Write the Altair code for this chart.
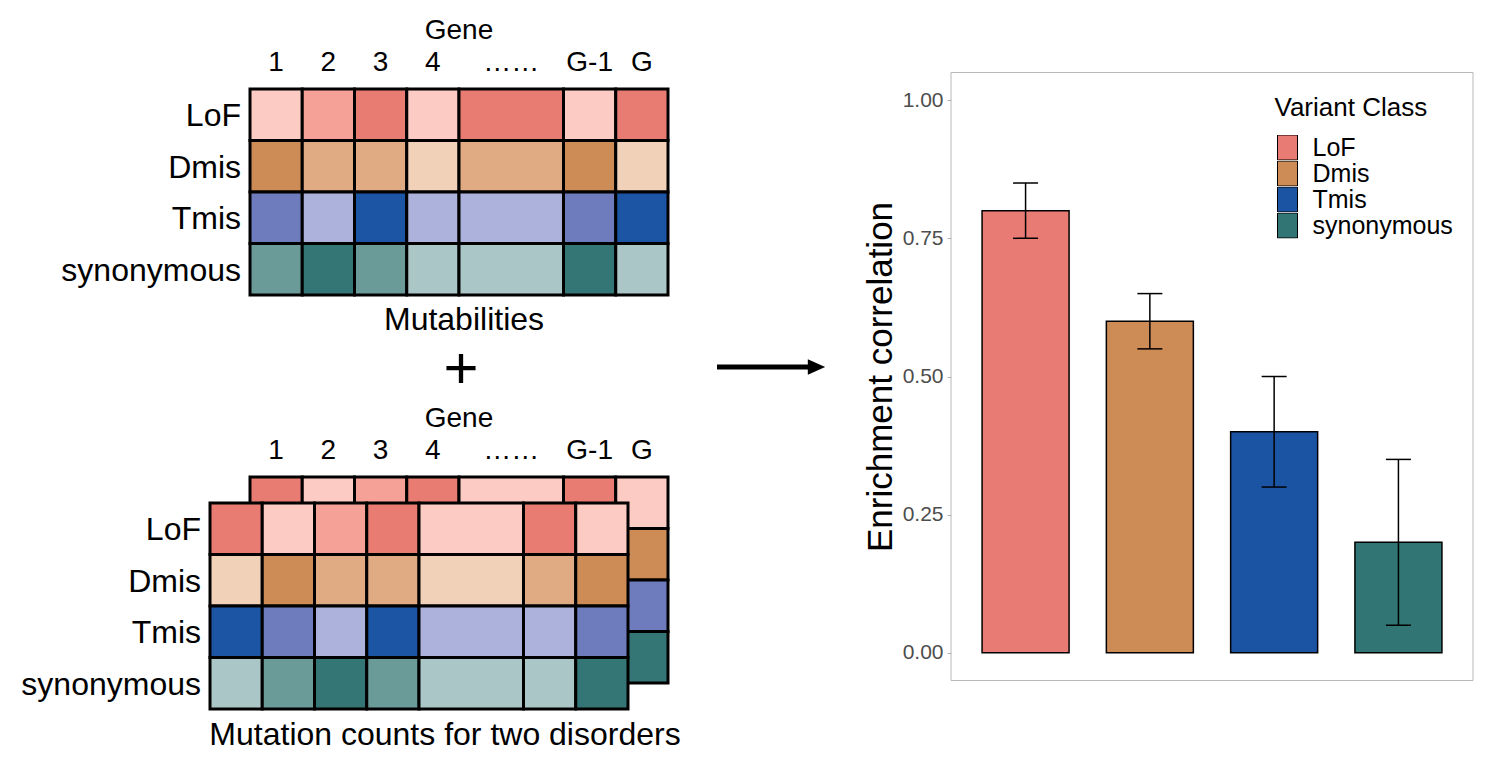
import altair as alt
import pandas as pd
from itertools import accumulate

FONT = "Liberation Sans"

# ------------------------------------------------------------------ data
genes = ["1", "2", "3", "4", "……", "G-1", "G"]
gene_span = [1, 1, 1, 1, 2, 1, 1]          # the "……" column stands for many genes
classes = ["LoF", "Dmis", "Tmis", "synonymous"]

# shade level (1 = light, 2 = medium, 3 = dark) of each cell
mut_lof = [1, 2, 3, 1, 3, 1, 3]
mut_dmis = [3, 2, 2, 1, 2, 3, 1]
mut_tmis = [2, 1, 3, 1, 1, 2, 3]
mut_syn = [2, 3, 2, 1, 1, 3, 1]

cnt_lof = [3, 1, 2, 3, 1, 3, 1]
cnt_dmis = [1, 3, 2, 2, 1, 2, 3]
cnt_tmis = [3, 2, 1, 3, 1, 1, 2]
cnt_syn = [1, 2, 3, 2, 1, 1, 3]

corr = [0.80, 0.60, 0.40, 0.20]
corr_lo = [0.75, 0.55, 0.30, 0.05]
corr_hi = [0.85, 0.65, 0.50, 0.35]

# ------------------------------------------------------------------ styles
shades = {
    "LoF": ["#FCCBC4", "#F6A198", "#E97C72"],
    "Dmis": ["#F2D1B9", "#E0AA82", "#CD8C55"],
    "Tmis": ["#ACB2DB", "#6E7BBD", "#1D55A5"],
    "synonymous": ["#ABC6C6", "#6B9B99", "#347575"],
}
bar_colors = ["#E87B73", "#CD8C55", "#1C54A4", "#327575"]
keys = [f"{c}-{l}" for c in classes for l in (1, 2, 3)]
key_colors = [shades[c][l - 1] for c in classes for l in (1, 2, 3)]

# ------------------------------------------------------------------ layout (page pixels)
MARGIN = 8
LW, H = 836, 747           # left schematic panel
RW = 522                   # bar chart panel
CELL_W, CELL_H = 418 / sum(gene_span), 51.5
TOP = (250, 89)            # mutability grid origin
BACK = (250, 477)          # second-disorder grid origin
FRONT = (210, 503)         # first-disorder grid origin
FS_HEAD = 28               # "Gene" and gene labels
FS_LAB = 32                # row labels and captions
FS_PLUS = 60

edges = [0] + list(accumulate(gene_span))

XS = alt.Scale(domain=[MARGIN, MARGIN + LW], nice=False, zero=False)
YS = alt.Scale(domain=[MARGIN, MARGIN + H], nice=False, zero=False, reverse=True)


def grid(levels, ox, oy):
    rows = []
    for r, (cls, lv) in enumerate(zip(classes, levels)):
        for c, g in enumerate(genes):
            rows.append({"x": ox + edges[c] * CELL_W, "x2": ox + edges[c + 1] * CELL_W,
                         "y": oy + r * CELL_H, "y2": oy + (r + 1) * CELL_H,
                         "key": f"{cls}-{lv[c]}", "gene": g, "cls": cls})
    return pd.DataFrame(rows)


def rect_layer(df):
    return alt.Chart(df).mark_rect(stroke="black", strokeWidth=3).encode(
        x=alt.X("x:Q", scale=XS, axis=None), x2="x2:Q",
        y=alt.Y("y:Q", scale=YS, axis=None), y2="y2:Q",
        color=alt.Color("key:N", scale=alt.Scale(domain=keys, range=key_colors), legend=None),
    )


mut_levels = [mut_lof, mut_dmis, mut_tmis, mut_syn]
cnt_levels = [cnt_lof, cnt_dmis, cnt_tmis, cnt_syn]

grid_w = edges[-1] * CELL_W
center_txt, right_txt = [], []


def header(ox, oy):
    center_txt.append({"x": ox + grid_w / 2, "y": oy - 50, "t": "Gene", "fs": FS_HEAD})
    for c, g in enumerate(genes):
        center_txt.append({"x": ox + (edges[c] + edges[c + 1]) / 2 * CELL_W, "y": oy - 18.5,
                           "t": g, "fs": FS_HEAD})


def row_labels(ox, oy):
    for r, cls in enumerate(classes):
        right_txt.append({"x": ox - 9, "y": oy + (r + 0.5) * CELL_H + 0.36 * FS_LAB,
                          "t": cls, "fs": FS_LAB})


header(*TOP)
row_labels(*TOP)
center_txt.append({"x": TOP[0] + grid_w / 2 + 5, "y": TOP[1] + 4 * CELL_H + 35,
                   "t": "Mutabilities", "fs": FS_LAB})
header(*BACK)
row_labels(*FRONT)
center_txt.append({"x": (FRONT[0] + BACK[0] + grid_w) / 2 + 6, "y": FRONT[1] + 4 * CELL_H + 36,
                   "t": "Mutation counts for two disorders", "fs": FS_LAB})
PLUS_Y = 367
center_txt.append({"x": 461, "y": PLUS_Y + 0.35 * FS_PLUS, "t": "+", "fs": FS_PLUS})


def text_layer(rows, align):
    return alt.Chart(pd.DataFrame(rows)).mark_text(
        align=align, baseline="alphabetic", font=FONT, color="black").encode(
        x=alt.X("x:Q", scale=XS, axis=None), y=alt.Y("y:Q", scale=YS, axis=None),
        text="t:N", size=alt.Size("fs:Q", scale=None))


arrow = pd.DataFrame({"x": [717], "x2": [812], "y": [367], "tip": [816.5]})
arrow_line = alt.Chart(arrow).mark_rule(color="black", strokeWidth=5).encode(
    x=alt.X("x:Q", scale=XS, axis=None), x2="x2:Q", y=alt.Y("y:Q", scale=YS, axis=None))
arrow_head = alt.Chart(arrow).mark_point(
    shape="M-1,-0.9L1,0L-1,0.9Z", size=300, filled=True, color="black", opacity=1).encode(
    x=alt.X("tip:Q", scale=XS, axis=None), y=alt.Y("y:Q", scale=YS, axis=None))

left = alt.layer(
    rect_layer(grid(mut_levels, *TOP)),
    rect_layer(grid(cnt_levels, *BACK)),
    rect_layer(grid(cnt_levels, *FRONT)),
    text_layer(center_txt, "center"),
    text_layer(right_txt, "right"),
    arrow_line, arrow_head,
).properties(width=LW, height=H)

# ------------------------------------------------------------------ bar chart
PLOT_TOP, PLOT_BOTTOM = 72.5 - MARGIN, 680.5 - MARGIN
TITLE = "Enrichment correlation"
YSC = alt.Scale(domain=[-0.05, 1.05], range=[PLOT_BOTTOM, PLOT_TOP], nice=False, zero=False)
yax = alt.Axis(values=[0, 0.25, 0.5, 0.75, 1.0], format=".2f", grid=False, domain=False,
               labelFont=FONT, labelFontSize=21, labelColor="#4D4D4D", labelPadding=4,
               tickColor="#B3B3B3", tickSize=4, tickWidth=1,
               titleFont=FONT, titleFontSize=35, titleFontWeight="normal", titleColor="black",
               titlePadding=4)
XB = alt.X("cls:N", sort=classes, scale=alt.Scale(domain=classes, paddingInner=0.3, paddingOuter=0.25), axis=None)

bar_df = pd.DataFrame({"cls": classes, "corr": corr, "lo": corr_lo, "hi": corr_hi})
base = alt.Chart(bar_df)

frame = alt.Chart(pd.DataFrame({"a": [0]})).mark_rect(
    fillOpacity=0, stroke="#B8B8B8", strokeWidth=1).encode(
    x=alt.value(0), x2=alt.value(RW),
    y=alt.Y(datum=-0.05, scale=YSC, axis=yax, title=TITLE), y2=alt.Y2(datum=1.05))

bars = base.mark_bar(stroke="black", strokeWidth=1.5, opacity=1).encode(
    x=XB, y=alt.Y("corr:Q", scale=YSC, axis=yax, title=TITLE), y2=alt.Y2(datum=0),
    color=alt.Color("cls:N", sort=classes, scale=alt.Scale(domain=classes, range=bar_colors),
                    legend=alt.Legend(title="Variant Class", orient="none", legendX=323.5, legendY=87,
                                      titleFont=FONT, titleFontSize=26, titleFontWeight="normal",
                                      titleColor="black", titlePadding=14,
                                      labelFont=FONT, labelFontSize=25, labelColor="black",
                                      labelOffset=12, symbolType="M-0.8,-1H0.8V1H-0.8Z",
                                      symbolSize=625, symbolStrokeColor="black",
                                      symbolStrokeWidth=1, symbolOpacity=1, rowPadding=0,
                                      clipHeight=25, padding=0, direction="vertical")))

err = base.mark_rule(color="black", strokeWidth=1.5).encode(
    x=XB, y=alt.Y("lo:Q", scale=YSC, axis=yax, title=TITLE), y2="hi:Q")
cap_lo = base.mark_tick(color="black", size=25, thickness=1.5, opacity=1).encode(
    x=XB, y=alt.Y("lo:Q", scale=YSC, axis=yax, title=TITLE))
cap_hi = base.mark_tick(color="black", size=25, thickness=1.5, opacity=1).encode(
    x=XB, y=alt.Y("hi:Q", scale=YSC, axis=yax, title=TITLE))

right = alt.layer(frame, bars, err, cap_lo, cap_hi).properties(width=RW, height=H)

chart = (
    alt.hconcat(left, right, spacing=19)
    .resolve_scale(color="independent")
    .properties(padding=0, background="white")
    .configure_view(stroke=None)
)

chart.save("out.html", embed_options={"renderer": "svg", "actions": False})
